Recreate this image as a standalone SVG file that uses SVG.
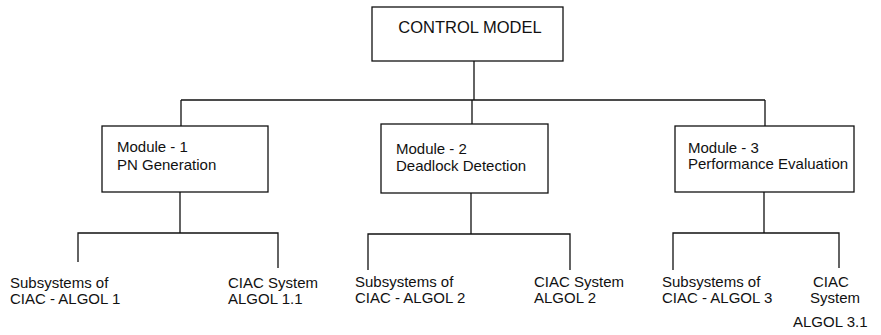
<svg xmlns="http://www.w3.org/2000/svg" width="881" height="335" viewBox="0 0 881 335">
<style>
.box{fill:#fff;stroke:#111;stroke-width:1.3}
.ln{fill:none;stroke:#111;stroke-width:1.3}
text{font-family:"Liberation Sans",Arial,sans-serif;font-size:15px;fill:#111}
</style>
<rect width="881" height="335" fill="#fff"/>
<g id="connectors">
<path class="ln" d="M474 61V100M181 100H765M181 100V126M472 100V124M765 100V126"/>
<path class="ln" d="M180 192V233M78 262V233H278V268"/>
<path class="ln" d="M471 193V234M368 270V234H570V270"/>
<path class="ln" d="M764 192V233M673 270V233H839V268"/>
</g>
<g id="control-model">
<rect class="box" x="372" y="7" width="191" height="54"/>
<text x="470" y="33" text-anchor="middle" style="font-size:16.5px">CONTROL MODEL</text>
</g>
<g id="module-1">
<rect class="box" x="102" y="126" width="166" height="66"/>
<text x="117" y="152">Module - 1</text>
<text x="117" y="170">PN Generation</text>
</g>
<g id="module-2">
<rect class="box" x="381" y="124" width="167" height="69"/>
<text x="396" y="154">Module - 2</text>
<text x="396" y="171">Deadlock Detection</text>
</g>
<g id="module-3">
<rect class="box" x="675" y="126" width="179" height="66"/>
<text x="688" y="153">Module - 3</text>
<text x="688" y="169">Performance Evaluation</text>
</g>
<g id="sub-1">
<text x="10" y="288">Subsystems of</text>
<text x="10" y="304">CIAC - ALGOL 1</text>
</g>
<g id="ciac-1">
<text x="228" y="288">CIAC System</text>
<text x="228" y="304">ALGOL 1.1</text>
</g>
<g id="sub-2">
<text x="355" y="287">Subsystems of</text>
<text x="355" y="303">CIAC - ALGOL 2</text>
</g>
<g id="ciac-2">
<text x="534" y="287">CIAC System</text>
<text x="534" y="303">ALGOL 2</text>
</g>
<g id="sub-3">
<text x="662" y="287">Subsystems of</text>
<text x="662" y="303">CIAC - ALGOL 3</text>
</g>
<g id="ciac-3">
<text x="813" y="287">CIAC</text>
<text x="810" y="303">System</text>
<text x="793" y="327">ALGOL 3.1</text>
</g>
</svg>
